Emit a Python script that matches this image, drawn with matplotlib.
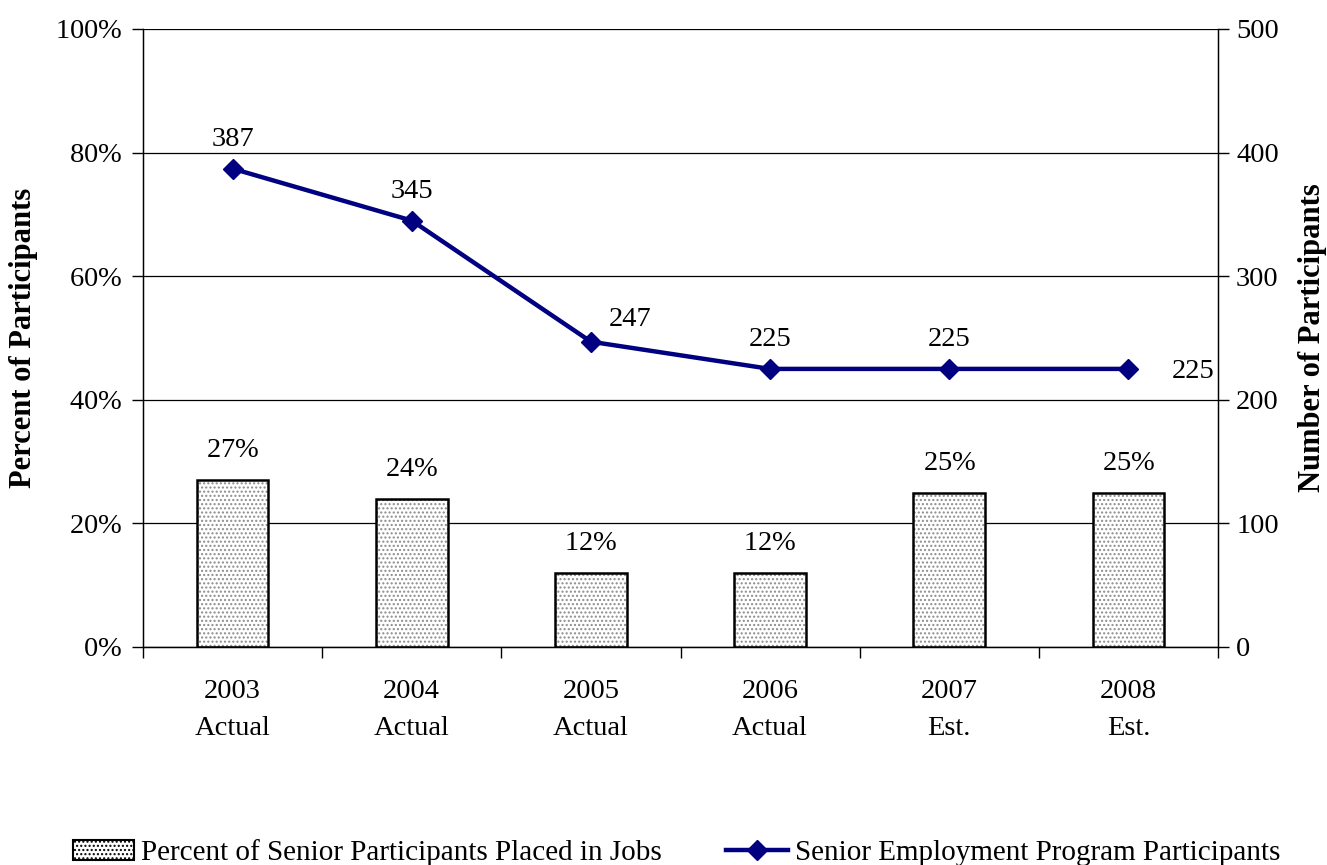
import numpy as np
import matplotlib
matplotlib.use("Agg")
import matplotlib.pyplot as plt
from matplotlib.lines import Line2D
from matplotlib.patches import Patch

# Data
years = ["2003\nActual", "2004\nActual", "2005\nActual", "2006\nActual",
         "2007\nEst.", "2008\nEst."]
pct_placed = [27, 24, 12, 12, 25, 25]
participants = [387, 345, 247, 225, 225, 225]

plt.rcParams["font.family"] = ["Liberation Serif", "DejaVu Serif"]
plt.rcParams["mathtext.fontset"] = "custom"
plt.rcParams["mathtext.rm"] = "Liberation Serif"
plt.rcParams["mathtext.it"] = "Liberation Serif:italic"
plt.rcParams["hatch.linewidth"] = 1.0
fs = 20.5
fs_leg = 21
fs_lab = 22
navy = "#000080"


def pct(v):
    return r"%d$\mathit{\%%}$" % v


fig = plt.figure(figsize=(13.27, 8.65), dpi=100)
ax = fig.add_axes([143/1327, 1 - 647/865, 1075/1327, 618/865])
ax2 = ax.twinx()

x = np.arange(len(years))

# Bars: hatch layer then outline
ax.bar(x, pct_placed, width=0.4, color="white", edgecolor="#8c8c8c",
       hatch="....", linewidth=0, zorder=2)
ax.bar(x, pct_placed, width=0.4, color="none", edgecolor="black",
       linewidth=1.8, zorder=3)
for xi, v in zip(x, pct_placed):
    ax.text(xi, v + 2.7, pct(v), ha="center", va="bottom", fontsize=fs)

ax.set_xlim(-0.5, len(years) - 0.5)
ax.set_ylim(0, 100)
ax.set_yticks(np.arange(0, 101, 20))
ax.set_yticklabels([pct(t) for t in range(0, 101, 20)], fontsize=fs)
ax.yaxis.grid(True, color="black", linewidth=0.9)
ax.set_axisbelow(True)
ax.set_xticks(np.arange(-0.5, len(years)), minor=False)
ax.set_xticklabels([])
ax.set_xticks(x, minor=True)
ax.set_xticklabels(years, minor=True, fontsize=fs, linespacing=1.65)
ax.tick_params(axis="x", which="major", length=8, width=1, direction="out")
ax.tick_params(axis="x", which="minor", length=0, pad=23)
ax.tick_params(axis="y", length=8, width=1, direction="out", pad=7)
ax.set_ylabel("Percent of Participants", fontsize=fs_lab, fontweight="bold",
              labelpad=12)

for s in ["left", "right", "bottom"]:
    ax.spines[s].set_linewidth(1.0)
ax.spines["top"].set_visible(False)

# Line on secondary axis
ax2.plot(x, participants, color=navy, linewidth=3.2, marker="D",
         markersize=10, zorder=5)
ax2.set_ylim(0, 500)
ax2.set_yticks(np.arange(0, 501, 100))
ax2.set_yticklabels([str(t) for t in range(0, 501, 100)], fontsize=fs)
ax2.tick_params(axis="y", length=8, width=1, direction="out", pad=5)
ax2.set_ylabel("Number of Participants", fontsize=fs_lab, fontweight="bold",
               rotation=90, labelpad=14)
ax2.spines["top"].set_visible(False)

offsets = [(0, 12, "center"), (0, 12, "center"), (13, 7, "left"),
           (0, 12, "center"), (0, 12, "center"), (31, -11, "left")]
for xi, v, (dx, dy, ha) in zip(x, participants, offsets):
    ax2.annotate(str(v), (xi, v), xytext=(dx, dy), textcoords="offset points",
                 ha=ha, va="bottom", fontsize=fs)

# Legend
h1 = Patch(facecolor="white", edgecolor="black", hatch="....", linewidth=1.5)
h2 = Line2D([], [], color=navy, linewidth=3.2, marker="D", markersize=10)
fig.legend([h1, h2], ["Percent of Senior Participants Placed in Jobs",
                      "Senior Employment Program Participants"],
           loc="lower center", bbox_to_anchor=(676.5 / 1327, -0.032), ncol=2,
           frameon=False, fontsize=fs_leg, columnspacing=2.2,
           handlelength=2.1, handletextpad=0.25, borderpad=0.4)

fig.savefig("out.png", dpi=100)
